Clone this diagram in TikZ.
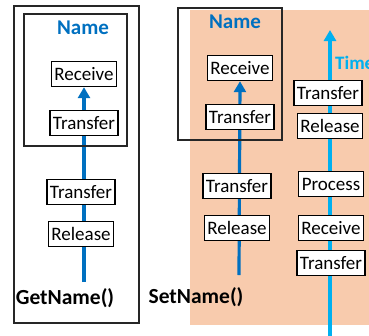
\documentclass[tikz,border=0pt]{standalone}
\usepackage{fontspec}
\setmainfont{Carlito}
\usetikzlibrary{arrows.meta,backgrounds}
\definecolor{darkblue}{RGB}{0,112,192}
\definecolor{lightblue}{RGB}{0,176,240}
\definecolor{peach}{RGB}{248,203,173}
\begin{document}
\begin{tikzpicture}[x=1pt,y=-1pt,
  box/.style={draw=black,line width=1.4pt,fill=white,font=\fontsize{19}{19}\selectfont,inner xsep=3pt,inner ysep=0pt,minimum height=25pt},
  frame/.style={draw=black!85,line width=1.2pt},
  title/.style={font=\fontsize{21}{21}\selectfont\bfseries,text=darkblue},
  func/.style={font=\fontsize{21.5}{21.5}\selectfont\bfseries,text=black},
  flow/.style={draw=darkblue,line width=3.2pt,-{Triangle[length=11pt,width=12pt]}},
  timeflow/.style={draw=lightblue,line width=3.2pt,-{Triangle[length=11pt,width=12pt]}}]
\useasboundingbox (0,0) rectangle (369,335);

% Left panel
\draw[frame] (14,6) rectangle (139,323);
\draw[frame] (24,14) rectangle (127,146);
\node[title] (n1) at (83,28) {Name};
\node[box] (r1) at (84,74) {Receive};
\node[box] (t1) at (84,123) {Transfer};
\node[box] (t2) at (81,192) {Transfer};
\node[box] (l1) at (81,234) {Release};
\node[func] (g) at (65,298) {GetName()};
\coordinate (s1) at (84,282);

% Right panel
\draw[frame] (178,8) rectangle (282,140);
\node[title] (n2) at (235,22) {Name};
\node[box] (r2) at (240,68) {Receive};
\node[box] (t3) at (240,117) {Transfer};
\node[box] (t4) at (237,186) {Transfer};
\node[box] (l2) at (237,228) {Release};
\node[func] (sn) at (196,297) {SetName()};
\coordinate (s2) at (239,275);

\coordinate (tb) at (330,345);
\coordinate (tt) at (330,30);
\node[anchor=west,font=\fontsize{19}{19}\selectfont\bfseries,text=lightblue,inner sep=0pt] (tm) at (335,63) {Time};
\node[box] (c1) at (328,93) {Transfer};
\node[box] (c2) at (330,126) {Release};
\node[box] (c3) at (331,184) {Process};
\node[box] (c4) at (331,228) {Receive};
\node[box] (c5) at (331,263) {Transfer};

\begin{scope}[on background layer]
  \fill[peach] (190,10) rectangle (375,325);
  \draw[flow] (s1) -- (r1.south);
  \draw[flow] (s2) -- (r2.south);
  \draw[timeflow] (tb) -- (tt);
\end{scope}
\end{tikzpicture}
\end{document}
